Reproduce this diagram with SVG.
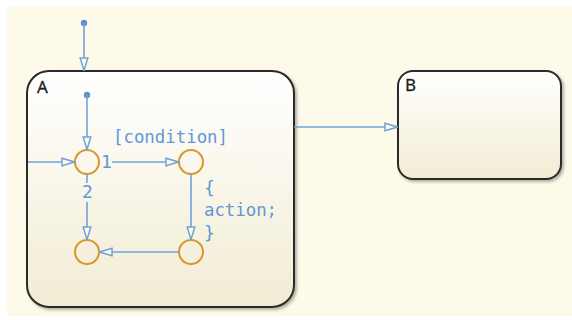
<svg xmlns="http://www.w3.org/2000/svg" width="572" height="320" viewBox="0 0 572 320">
<style>
.conn{fill:none;stroke:#6fa3d8;stroke-width:1.6}
.junc{fill:none;stroke:#d8972a;stroke-width:2}
.state{stroke:#2a2a2a;stroke-width:2;fill:url(#sg)}
.lbl{font-family:"DejaVu Sans Mono","Liberation Mono",monospace;font-size:18px;fill:#5f98d6}
.name{font-family:"Noto Sans","Liberation Sans",sans-serif;font-size:17px;fill:#1e1e1e;stroke:#1e1e1e;stroke-width:0.3}
.dot{fill:#5b93d0}
</style>
<defs>
<linearGradient id="sg" x1="0" y1="0" x2="0" y2="1">
<stop offset="0" stop-color="#ffffff"/>
<stop offset="1" stop-color="#f2ecd3"/>
</linearGradient>
<filter id="sh" x="-10%" y="-10%" width="120%" height="120%">
<feDropShadow dx="2" dy="2" stdDeviation="1.5" flood-color="#000" flood-opacity="0.3"/>
</filter>
<marker id="ah" viewBox="0 0 14 10" refX="14" refY="5" markerWidth="14" markerHeight="10" markerUnits="userSpaceOnUse" orient="auto">
<path d="M1,1.2 L13.5,5 L1,8.8 Z" fill="#fdfbee" stroke="#6fa3d8" stroke-width="1.5"/>
</marker>
</defs>
<rect x="0" y="0" width="572" height="320" fill="#ffffff"/>
<rect x="7" y="6" width="565" height="310" fill="#fdfaea"/>
<g id="A">
<rect class="state" x="27" y="71" width="267" height="236" rx="22" filter="url(#sh)"/>
<text class="name" x="37" y="93">A</text>
</g>
<g id="B">
<rect class="state" x="398" y="71" width="163" height="108" rx="15" filter="url(#sh)"/>
<text class="name" x="405" y="91">B</text>
</g>
<g id="j1"><circle class="junc" cx="87" cy="162" r="12"/></g>
<g id="j2"><circle class="junc" cx="191" cy="162" r="12"/></g>
<g id="j3"><circle class="junc" cx="87" cy="252" r="12"/></g>
<g id="j4"><circle class="junc" cx="191" cy="252" r="12"/></g>
<g id="connectors">
<circle class="dot" cx="84" cy="23" r="3.2"/>
<line class="conn" x1="84" y1="23" x2="84" y2="71" marker-end="url(#ah)"/>
<circle class="dot" cx="87" cy="95" r="3.2"/>
<line class="conn" x1="87" y1="95" x2="87" y2="150" marker-end="url(#ah)"/>
<line class="conn" x1="28" y1="162" x2="75" y2="162" marker-end="url(#ah)"/>
<line class="conn" x1="112" y1="162" x2="179" y2="162" marker-end="url(#ah)"/>
<line class="conn" x1="87" y1="174" x2="87" y2="183"/>
<line class="conn" x1="87" y1="202" x2="87" y2="240" marker-end="url(#ah)"/>
<line class="conn" x1="191" y1="174" x2="191" y2="240" marker-end="url(#ah)"/>
<line class="conn" x1="179" y1="252" x2="99" y2="252" marker-end="url(#ah)"/>
<line class="conn" x1="294" y1="127" x2="398" y2="127" marker-end="url(#ah)"/>
<text class="lbl" x="113" y="143" textLength="115" lengthAdjust="spacingAndGlyphs">[condition]</text>
<text class="lbl" x="101" y="168">1</text>
<text class="lbl" x="82" y="198">2</text>
<text class="lbl" x="204" y="194">{</text>
<text class="lbl" x="204" y="216" textLength="73" lengthAdjust="spacingAndGlyphs">action;</text>
<text class="lbl" x="204" y="239">}</text>
</g>
</svg>
